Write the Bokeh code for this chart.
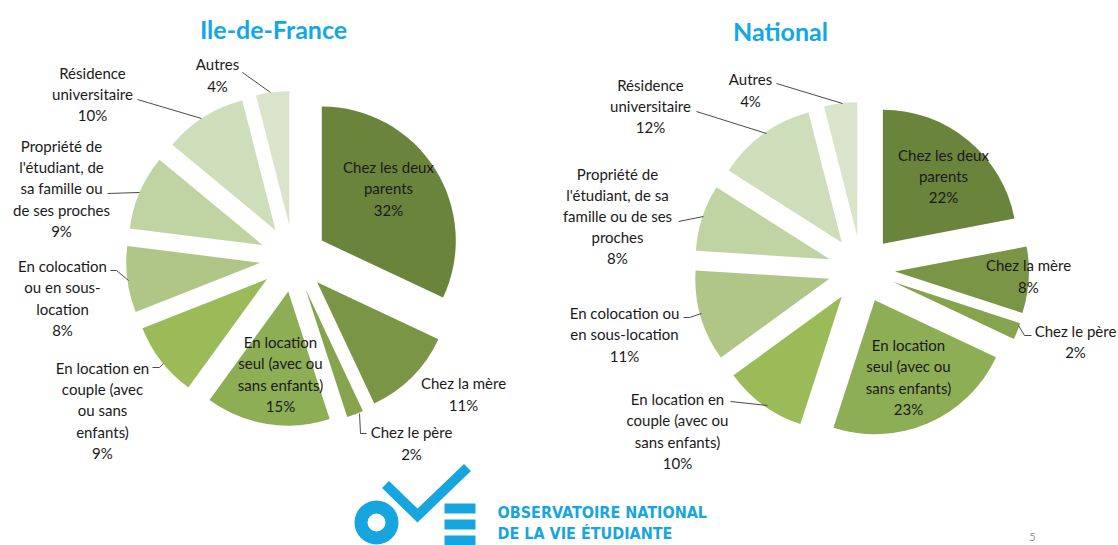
import numpy as np
from bokeh.plotting import figure
from bokeh.models import Range1d, ColumnDataSource
from bokeh.embed import file_html
from bokeh.resources import INLINE
from bokeh.core.properties import value

# ---------------- data ----------------
categories = ["Chez les deux parents", "Chez la mère", "Chez le père",
              "En location seul (avec ou sans enfants)",
              "En location en couple (avec ou sans enfants)",
              "En colocation ou en sous-location",
              "Propriété de l'étudiant, de sa famille ou de ses proches",
              "Résidence universitaire", "Autres"]
idf_values = [32, 11, 2, 15, 9, 8, 9, 10, 4]
nat_values = [22, 8, 2, 23, 10, 11, 8, 12, 4]
titles = ["Ile-de-France", "National"]

# wrapped label text per pie (layout only)
idf_wrapped = ["Chez les deux\nparents", "Chez la mère", "Chez le père",
               "En location\nseul (avec ou\nsans enfants)",
               "En location en\ncouple (avec\nou sans\nenfants)",
               "En colocation\nou en sous-\nlocation",
               "Propriété de\nl'étudiant, de\nsa famille ou\nde ses proches",
               "Résidence\nuniversitaire", "Autres"]
nat_wrapped = ["Chez les deux\nparents", "Chez la mère", "Chez le père",
               "En location\nseul (avec ou\nsans enfants)",
               "En location en\ncouple (avec ou\nsans enfants)",
               "En colocation ou\nen sous-location",
               "Propriété de\nl'étudiant, de sa\nfamille ou de ses\nproches",
               "Résidence\nuniversitaire", "Autres"]

colors = ["#6B843C", "#7A9546", "#86A44E", "#8DAE55", "#9BBB59",
          "#AFC687", "#C0D4A3", "#CEDDBA", "#DAE4CB"]

# ---------------- layout ----------------
W, H = 1118, 545
p = figure(width=W, height=H, x_range=Range1d(0, W), y_range=Range1d(-H, 0),
           output_backend="svg", toolbar_location=None,
           x_axis_location=None, y_axis_location=None, min_border=0)
p.grid.visible = False
p.outline_line_color = None
p.background_fill_color = "white"

FONT = value("Lato")
R = 134.0
D = 33.5

pies = [
    dict(values=idf_values, wrapped=idf_wrapped, cx=293, cy=258, title=titles[0], tx=273, ty=28,
         lab=[(388, 188), (463, 393.5), (411, 442.5), (280, 373.5), (102, 410), (62, 297.5),
              (61, 188), (92, 93.5), (217, 74.5)],
         leaders=[[(242, 72), (270, 92)], [(137, 99), (201, 118)], [(107, 193), (139, 192)],
                  [(110, 270), (116, 270), (128, 280)], [(152, 367), (159, 367), (163, 363)],
                  [(359, 413), (360, 433), (366, 433)]]),
    dict(values=nat_values, wrapped=nat_wrapped, cx=861, cy=269, title=titles[1], tx=780, ty=30,
         lab=[(943, 175.5), (1028, 275.5), (1075, 341), (908, 376.5), (677, 430.5), (624, 334),
              (617, 215.5), (650, 105.5), (750, 89.5)],
         leaders=[[(776, 83), (842, 103)], [(696, 111), (766, 133)], [(678, 221), (703, 216)],
                  [(683, 317), (689, 317), (701, 313)], [(730, 401), (767, 405)],
                  [(1018, 325), (1024, 335), (1031, 335)]]),
]

for pie in pies:
    vals = np.array(pie["values"], dtype=float)
    frac = vals / vals.sum()
    ends = np.cumsum(frac) * 2 * np.pi
    starts = ends - frac * 2 * np.pi
    mids = (starts + ends) / 2
    xs = pie["cx"] + D * np.sin(mids)
    ys = -pie["cy"] + D * np.cos(mids)
    src = ColumnDataSource(dict(x=xs, y=ys, start=np.pi / 2 - ends, end=np.pi / 2 - starts,
                                color=colors, cat=categories))
    p.wedge(x="x", y="y", radius=R, start_angle="start", end_angle="end",
            direction="anticlock", fill_color="color", line_color=None, source=src)

    # leader lines
    p.multi_line(xs=[[pt[0] for pt in l] for l in pie["leaders"]],
                 ys=[[-pt[1] for pt in l] for l in pie["leaders"]],
                 line_color="#4a4a4a", line_width=1)

    texts = [f"{w}\n{int(v)}%" for w, v in zip(pie["wrapped"], pie["values"])]
    p.text(x=[l[0] for l in pie["lab"]], y=[-l[1] for l in pie["lab"]], text=texts,
           text_font=FONT, text_font_size="15px", text_color="#1a1a1a",
           text_align="center", text_baseline="middle", text_line_height=1.17)

    p.text(x=[pie["tx"]], y=[-pie["ty"]], text=[pie["title"]], text_font=FONT,
           text_font_size="25px", text_font_style="bold", text_color="#12A8E6",
           text_align="center", text_baseline="middle")

# ---------------- logo ----------------
BLUE = "#17A5E0"
p.annulus(x=[376], y=[-522], inner_radius=9, outer_radius=22, fill_color=BLUE, line_color=None)
p.line(x=[385, 417, 467], y=[-484, -515, -467], line_width=10, line_color=BLUE,
       line_join="miter", line_cap="butt")
p.quad(left=[444, 444, 444], right=[475, 475, 475], top=[-503, -519, -535],
       bottom=[-513, -529, -545], fill_color=BLUE, line_color=None)
p.text(x=[497, 497], y=[-512, -533], text=["OBSERVATOIRE NATIONAL", "DE LA VIE ÉTUDIANTE"],
       text_font=value("DejaVu Sans Condensed"), text_font_size="16px",
       text_font_style="bold", text_color=BLUE, text_align="left", text_baseline="middle")
p.text(x=[1032], y=[-536], text=["5"], text_font=FONT, text_font_size="11px",
       text_color="#9a9a9a", text_align="center", text_baseline="middle")

open("out.html", "w").write(file_html(p, INLINE))
